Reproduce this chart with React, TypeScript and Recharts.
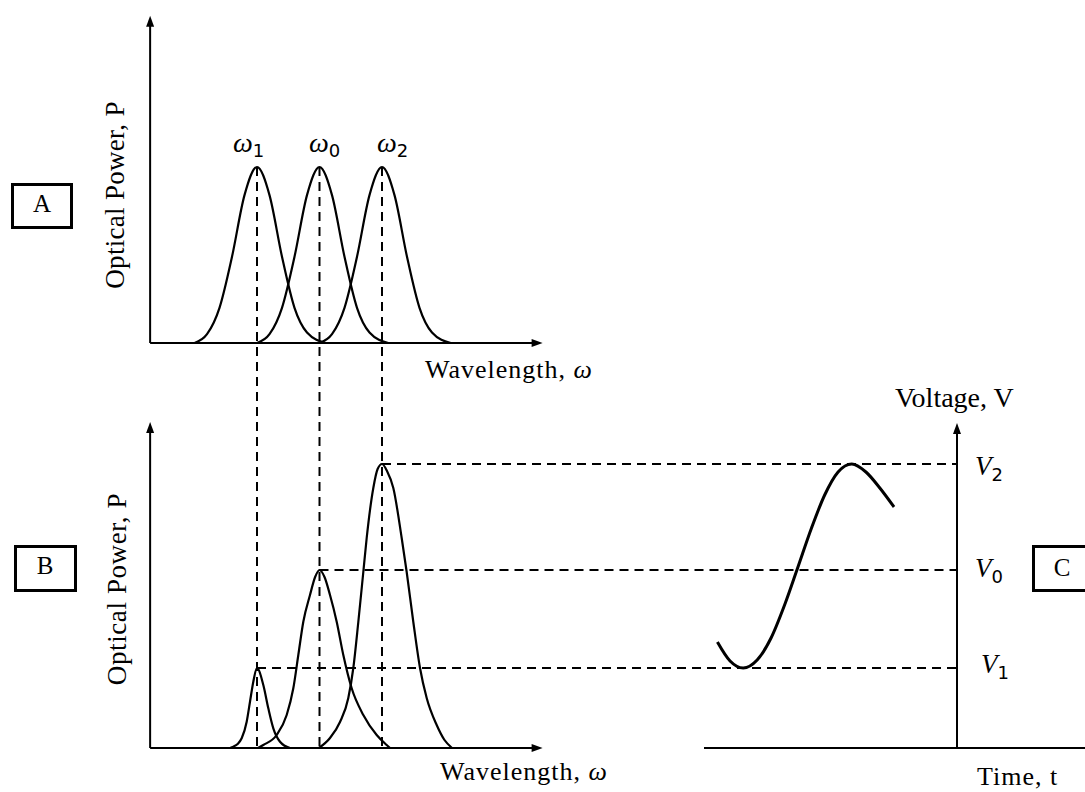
import React from 'react';
import { ComposedChart, Line, XAxis, YAxis, ReferenceLine } from 'recharts';

// ---------- data ----------
// channel wavelengths (ω units) and labels
const channelLabels = ['1', '0', '2'];
const channelW = [-1, 0, 1];

// Panel A: optical spectra of the three channels (normalized power)
const spectrumA1 = [
  { w: -2.0, p: 0 }, { w: -1.8, p: 0.05 }, { w: -1.6, p: 0.2 }, { w: -1.4, p: 0.49 },
  { w: -1.2, p: 0.84 }, { w: -1.0, p: 1 }, { w: -0.8, p: 0.84 }, { w: -0.6, p: 0.49 },
  { w: -0.4, p: 0.2 }, { w: -0.2, p: 0.06 }, { w: 0.1, p: 0 },
];
const spectrumA0 = [
  { w: -1.0, p: 0 }, { w: -0.8, p: 0.05 }, { w: -0.6, p: 0.2 }, { w: -0.4, p: 0.49 },
  { w: -0.2, p: 0.84 }, { w: 0, p: 1 }, { w: 0.2, p: 0.84 }, { w: 0.4, p: 0.49 },
  { w: 0.6, p: 0.2 }, { w: 0.8, p: 0.06 }, { w: 1.1, p: 0 },
];
const spectrumA2 = [
  { w: 0.0, p: 0 }, { w: 0.2, p: 0.05 }, { w: 0.4, p: 0.2 }, { w: 0.6, p: 0.49 },
  { w: 0.8, p: 0.84 }, { w: 1.0, p: 1 }, { w: 1.2, p: 0.84 }, { w: 1.4, p: 0.49 },
  { w: 1.6, p: 0.2 }, { w: 1.8, p: 0.06 }, { w: 2.1, p: 0 },
];

// Panel B: spectra after the filter (power, same units as voltage in C)
const spectrumB1 = [
  { w: -1.432, p: 0 }, { w: -1.379, p: 0.013 }, { w: -1.31, p: 0.04 }, { w: -1.245, p: 0.097 },
  { w: -1.165, p: 0.263 }, { w: -1.112, p: 0.463 }, { w: -1.059, p: 0.663 }, { w: -1.0, p: 0.8 },
  { w: -0.899, p: 0.63 }, { w: -0.819, p: 0.397 }, { w: -0.739, p: 0.197 }, { w: -0.632, p: 0.063 },
  { w: -0.472, p: 0 },
];
const spectrumB0 = [
  { w: -0.984, p: 0 }, { w: -0.899, p: 0.03 }, { w: -0.685, p: 0.13 }, { w: -0.525, p: 0.33 },
  { w: -0.419, p: 0.597 }, { w: -0.339, p: 0.93 }, { w: -0.259, p: 1.263 }, { w: -0.152, p: 1.53 },
  { w: -0.07, p: 1.71 }, { w: 0, p: 1.78 }, { w: 0.08, p: 1.71 }, { w: 0.168, p: 1.53 },
  { w: 0.275, p: 1.263 }, { w: 0.381, p: 0.93 }, { w: 0.515, p: 0.597 }, { w: 0.701, p: 0.33 },
  { w: 0.915, p: 0.13 }, { w: 1.075, p: 0.03 }, { w: 1.128, p: 0 },
];
const spectrumB2 = [
  { w: -0.01, p: 0 }, { w: 0.168, p: 0.1 }, { w: 0.328, p: 0.26 }, { w: 0.461, p: 0.5 },
  { w: 0.541, p: 0.8 }, { w: 0.621, p: 1.26 }, { w: 0.701, p: 1.76 }, { w: 0.755, p: 2.1 },
  { w: 0.861, p: 2.6 }, { w: 0.93, p: 2.79 }, { w: 1.0, p: 2.84 }, { w: 1.08, p: 2.77 },
  { w: 1.181, p: 2.6 }, { w: 1.315, p: 2.1 }, { w: 1.395, p: 1.76 }, { w: 1.501, p: 1.26 },
  { w: 1.608, p: 0.8 }, { w: 1.715, p: 0.5 }, { w: 1.875, p: 0.23 }, { w: 2.0, p: 0.08 },
  { w: 2.12, p: 0 },
];

// peak powers in B == voltage levels V1, V0, V2 in C
const peakB = [0.8, 1.78, 2.84];

// Panel C: voltage vs time
const voltageC = [
  { t: 0.53, v: 1.06 }, { t: 1.03, v: 0.87 }, { t: 1.55, v: 0.8 }, { t: 2.1, v: 0.88 },
  { t: 2.65, v: 1.1 }, { t: 3.2, v: 1.44 }, { t: 3.7, v: 1.8 }, { t: 4.25, v: 2.2 },
  { t: 4.77, v: 2.53 }, { t: 5.3, v: 2.76 }, { t: 5.84, v: 2.84 }, { t: 6.4, v: 2.76 },
  { t: 6.95, v: 2.6 }, { t: 7.51, v: 2.41 },
];

// axis extents (data units)
const wAxisStart = -2.71;
const wAxisEnd = 3.57;
const aAxisTop = 1.86;
const bAxisTop = 3.26;
const tVoltageAxis = 10;
const tAxisStart = 0;
const tAxisEnd = 15.3;
const vAxisTop = 3.25;

// ---------- layout (scale geometry) ----------
const W = 1085;
const H = 792;
const W_ZERO_X = 319.5;
const W_UNIT = 62.5;
const T_ZERO_X = 704;
const T_UNIT = 25.3;
const A_ZERO_Y = 343;
const A_UNIT = 176;
const B_ZERO_Y = 748;
const B_UNIT = 100;

const wDomain = [-W_ZERO_X / W_UNIT, (W - W_ZERO_X) / W_UNIT];
const tDomain = [-T_ZERO_X / T_UNIT, (W - T_ZERO_X) / T_UNIT];
const aDomain = [(A_ZERO_Y - H) / A_UNIT, A_ZERO_Y / A_UNIT];
const bDomain = [(B_ZERO_Y - H) / B_UNIT, B_ZERO_Y / B_UNIT];

const bBaseInA = (A_ZERO_Y - B_ZERO_Y) / A_UNIT;
const vAxisInW = (T_ZERO_X + tVoltageAxis * T_UNIT - W_ZERO_X) / W_UNIT;

const FONT = '"Liberation Serif", "Times New Roman", serif';

const ArrowShape = (props: any) => {
  const { x1, y1, x2, y2 } = props;
  const dx = x2 - x1;
  const dy = y2 - y1;
  const len = Math.hypot(dx, dy) || 1;
  const ux = dx / len;
  const uy = dy / len;
  const L = 11;
  const hw = 4;
  const bx = x2 - ux * L;
  const by = y2 - uy * L;
  const pts = `${x2},${y2} ${bx - uy * hw},${by + ux * hw} ${bx + uy * hw},${by - ux * hw}`;
  return (
    <g>
      <line x1={x1} y1={y1} x2={bx + ux * 2} y2={by + uy * 2} stroke="#000" strokeWidth={2} />
      <polygon points={pts} fill="#000" />
    </g>
  );
};

const dash = { stroke: '#000', strokeWidth: 2, strokeDasharray: '9 6' };

export default function App() {
  const spectraA = [spectrumA1, spectrumA0, spectrumA2];
  const spectraB = [spectrumB1, spectrumB0, spectrumB2];
  return (
    <div style={{ position: 'absolute', left: 0, top: 0, width: W, height: H, background: '#fff', overflow: 'hidden' }}>
      <ComposedChart width={W} height={H} margin={{ top: 0, right: 0, bottom: 0, left: 0 }}>
        <XAxis xAxisId="w" dataKey="w" type="number" domain={wDomain} allowDataOverflow hide />
        <XAxis xAxisId="t" dataKey="t" type="number" domain={tDomain} allowDataOverflow hide />
        <YAxis yAxisId="a" type="number" domain={aDomain} allowDataOverflow hide />
        <YAxis yAxisId="b" type="number" domain={bDomain} allowDataOverflow hide />

        {/* dashed guide lines */}
        {channelW.map((w, i) => (
          <ReferenceLine
            key={`v${i}`}
            xAxisId="w"
            yAxisId="a"
            segment={[{ x: w, y: 1 }, { x: w, y: bBaseInA }]}
            {...dash}
          />
        ))}
        {channelW.map((w, i) => (
          <ReferenceLine
            key={`h${i}`}
            xAxisId="w"
            yAxisId="b"
            segment={[{ x: w, y: peakB[i] }, { x: vAxisInW, y: peakB[i] }]}
            {...dash}
          />
        ))}

        {/* axes of A */}
        <ReferenceLine xAxisId="w" yAxisId="a" segment={[{ x: wAxisStart, y: 0 }, { x: wAxisStart, y: aAxisTop }]} shape={ArrowShape} />
        <ReferenceLine xAxisId="w" yAxisId="a" segment={[{ x: wAxisStart, y: 0 }, { x: wAxisEnd, y: 0 }]} shape={ArrowShape} />
        {/* axes of B */}
        <ReferenceLine xAxisId="w" yAxisId="b" segment={[{ x: wAxisStart, y: 0 }, { x: wAxisStart, y: bAxisTop }]} shape={ArrowShape} />
        <ReferenceLine xAxisId="w" yAxisId="b" segment={[{ x: wAxisStart, y: 0 }, { x: wAxisEnd, y: 0 }]} shape={ArrowShape} />
        {/* axes of C */}
        <ReferenceLine xAxisId="t" yAxisId="b" segment={[{ x: tVoltageAxis, y: 0 }, { x: tVoltageAxis, y: vAxisTop }]} shape={ArrowShape} />
        <ReferenceLine
          xAxisId="t"
          yAxisId="b"
          ifOverflow="visible"
          segment={[{ x: tAxisStart, y: 0 }, { x: tAxisEnd, y: 0 }]}
          stroke="#000"
          strokeWidth={2}
        />

        {spectraA.map((d, i) => (
          <Line
            key={`a${i}`}
            data={d}
            xAxisId="w"
            yAxisId="a"
            dataKey="p"
            type="monotone"
            stroke="#000"
            strokeWidth={2.2}
            dot={false}
            activeDot={false}
            isAnimationActive={false}
          />
        ))}
        {spectraB.map((d, i) => (
          <Line
            key={`b${i}`}
            data={d}
            xAxisId="w"
            yAxisId="b"
            dataKey="p"
            type="monotone"
            stroke="#000"
            strokeWidth={2.2}
            dot={false}
            activeDot={false}
            isAnimationActive={false}
          />
        ))}
        <Line
          data={voltageC}
          xAxisId="t"
          yAxisId="b"
          dataKey="v"
          type="monotone"
          stroke="#000"
          strokeWidth={3}
          dot={false}
          activeDot={false}
          isAnimationActive={false}
        />
      </ComposedChart>

      <svg width={W} height={H} style={{ position: 'absolute', left: 0, top: 0, pointerEvents: 'none' }}>
        <g fontFamily={FONT} fill="#000">
          {/* y-axis titles */}
          <text transform="translate(124,195) rotate(-90)" textAnchor="middle" fontSize={27} letterSpacing={0.3}>Optical Power, P</text>
          <text transform="translate(126,589) rotate(-90)" textAnchor="middle" fontSize={27} letterSpacing={0.6}>Optical Power, P</text>
          {/* x-axis titles */}
          <text x={425} y={378} fontSize={26} letterSpacing={1}>Wavelength, <tspan fontStyle="italic">ω</tspan></text>
          <text x={440} y={780} fontSize={26} letterSpacing={1}>Wavelength, <tspan fontStyle="italic">ω</tspan></text>
          <text x={895} y={407} fontSize={28}>Voltage, V</text>
          <text x={977} y={785} fontSize={26} letterSpacing={1}>Time, t</text>

          {/* channel labels */}
          {[233, 309, 377].map((x, i) => (
            <text key={`wl${i}`} x={x} y={152} fontSize={28}>
              <tspan fontStyle="italic">ω</tspan>
              <tspan fontSize={18} dy={5} fontFamily='"DejaVu Sans", sans-serif'>{channelLabels[i]}</tspan>
            </text>
          ))}
          {/* voltage labels */}
          {[
            { x: 975, y: 475, s: '2' },
            { x: 975, y: 577, s: '0' },
            { x: 981, y: 673, s: '1' },
          ].map((l, i) => (
            <text key={`vl${i}`} x={l.x} y={l.y} fontSize={27}>
              <tspan fontStyle="italic">V</tspan>
              <tspan fontSize={18} dy={6} fontFamily='"DejaVu Sans", sans-serif'>{l.s}</tspan>
            </text>
          ))}

          {/* panel boxes */}
          <rect x={12.5} y={184.5} width={59} height={43} fill="none" stroke="#000" strokeWidth={3} />
          <text x={42} y={212} fontSize={25} textAnchor="middle">A</text>
          <rect x={15.5} y={546.5} width={60} height={44} fill="none" stroke="#000" strokeWidth={3} />
          <text x={45} y={574} fontSize={25} textAnchor="middle">B</text>
          <rect x={1033.5} y={546.5} width={80} height={44} fill="none" stroke="#000" strokeWidth={3} />
          <text x={1062} y={576} fontSize={25} textAnchor="middle">C</text>
        </g>
      </svg>
    </div>
  );
}
